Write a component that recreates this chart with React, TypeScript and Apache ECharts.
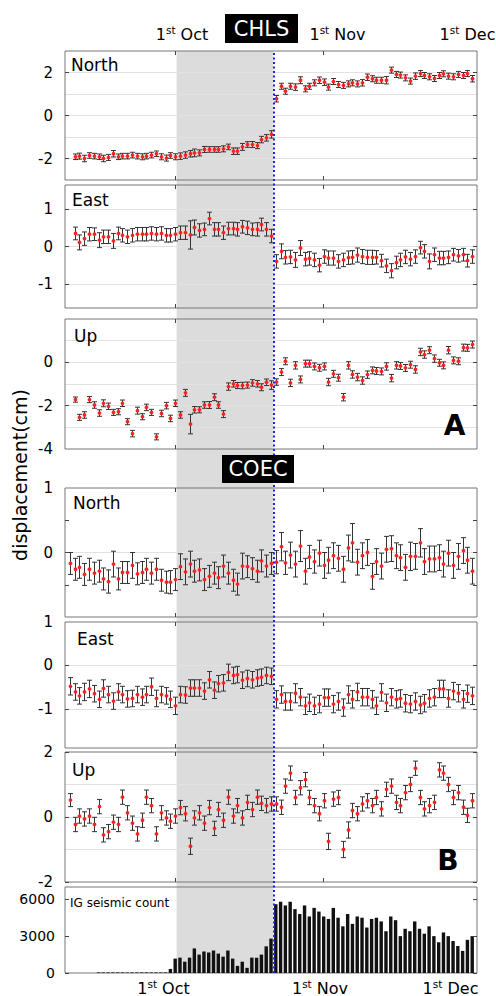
import React, { useEffect, useRef } from "react";
import * as echarts from "echarts";

const FONT = '"DejaVu Sans", "Noto Sans", sans-serif';

// x axis: day number counted from 1 Sep (1 Oct = 30, 1 Nov = 61, 1 Dec = 91)
const xMin = 7;
const xMax = 93;
const monthNames = ["Oct", "Nov", "Dec"];
const panelTickDays = [30, 61];
const grayStartDay = 30.3;
const eventDay = 50.5;

const chlsFirstDay = 9;
const coecFirstDay = 8;
const barFirstDay = 14;

// ---------- CHLS ----------
const chlsNorth = [
  -1.92, -1.89, -2.0, -1.86, -1.89, -1.92, -2.0, -1.95, -1.78, -1.92,
  -1.89, -1.89, -1.84, -1.89, -1.92, -1.89, -1.84, -1.78, -1.92, -1.98,
  -1.86, -1.92, -1.89, -1.84, -1.78, -1.74, -1.74, -1.58, -1.58, -1.58,
  -1.58, -1.55, -1.46, -1.66, -1.66, -1.46, -1.35, -1.35, -1.4, -1.12,
  -1.04, -0.88,
  0.78, 1.36, 1.13, 1.36, 1.32, 1.64, 1.24, 1.36, 1.52, 1.64,
  1.55, 1.32, 1.58, 1.44, 1.4, 1.47, 1.52, 1.47, 1.52, 1.78,
  1.71, 1.64, 1.64, 1.64, 2.11, 1.91, 1.88, 1.75, 1.6, 1.83,
  1.95, 1.86, 1.8, 1.72, 1.86, 1.94, 1.83, 1.8, 1.91, 1.86,
  1.95, 1.71,
];
const chlsNorthErr = [
  0.13, 0.14, 0.15, 0.13, 0.13, 0.13, 0.15, 0.14, 0.15, 0.13,
  0.13, 0.13, 0.13, 0.13, 0.14, 0.13, 0.13, 0.13, 0.14, 0.14,
  0.13, 0.14, 0.15, 0.15, 0.15, 0.18, 0.14, 0.14, 0.13, 0.13,
  0.13, 0.14, 0.13, 0.15, 0.15, 0.16, 0.13, 0.14, 0.14, 0.15,
  0.15, 0.17,
  0.15, 0.14, 0.14, 0.14, 0.15, 0.16, 0.14, 0.14, 0.14, 0.15,
  0.15, 0.14, 0.14, 0.14, 0.14, 0.14, 0.14, 0.14, 0.15, 0.15,
  0.14, 0.14, 0.14, 0.17, 0.14, 0.14, 0.14, 0.14, 0.14, 0.15,
  0.14, 0.14, 0.14, 0.14, 0.14, 0.14, 0.14, 0.14, 0.14, 0.14,
  0.14, 0.15,
];
const chlsEast = [
  0.35, 0.11, 0.21, 0.33, 0.33, 0.17, 0.26, 0.26, 0.15, 0.35,
  0.3, 0.26, 0.3, 0.33, 0.33, 0.33, 0.35, 0.33, 0.35, 0.3,
  0.3, 0.33, 0.37, 0.37, 0.31, 0.51, 0.43, 0.46, 0.75, 0.46,
  0.46, 0.37, 0.48, 0.48, 0.46, 0.53, 0.5, 0.46, 0.46, 0.59,
  0.46, 0.28,
  -0.4, -0.13, -0.29, -0.28, -0.36, -0.04, -0.34, -0.32, -0.36, -0.5,
  -0.27, -0.31, -0.31, -0.4, -0.36, -0.3, -0.29, -0.23, -0.27, -0.29,
  -0.29, -0.29, -0.38, -0.52, -0.65, -0.43, -0.36, -0.28, -0.34, -0.27,
  -0.03, -0.13, -0.4, -0.22, -0.31, -0.31, -0.29, -0.22, -0.25, -0.22,
  -0.38, -0.27,
];
const chlsEastErr = [
  0.17, 0.2, 0.18, 0.18, 0.17, 0.2, 0.18, 0.18, 0.2, 0.17,
  0.18, 0.18, 0.18, 0.18, 0.18, 0.18, 0.18, 0.18, 0.18, 0.18,
  0.18, 0.18, 0.18, 0.18, 0.38, 0.2, 0.18, 0.17, 0.17, 0.18,
  0.18, 0.18, 0.17, 0.17, 0.18, 0.17, 0.18, 0.17, 0.18, 0.17,
  0.18, 0.18,
  0.18, 0.2, 0.18, 0.18, 0.2, 0.2, 0.18, 0.18, 0.18, 0.18,
  0.18, 0.19, 0.19, 0.18, 0.18, 0.18, 0.18, 0.19, 0.19, 0.19,
  0.19, 0.18, 0.17, 0.18, 0.19, 0.17, 0.18, 0.18, 0.18, 0.18,
  0.17, 0.18, 0.2, 0.18, 0.18, 0.18, 0.17, 0.17, 0.17, 0.17,
  0.17, 0.18,
];
const chlsUp = [
  -1.72, -2.54, -2.43, -1.72, -1.97, -2.34, -1.89, -2.03, -2.31, -2.28,
  -1.89, -2.74, -3.29, -2.23, -2.51, -2.08, -2.31, -3.44, -2.36, -2.0,
  -2.59, -1.89, -2.43, -1.41, -2.85, -2.19, -2.19, -1.97, -1.97, -1.61,
  -1.97, -2.39, -1.12, -0.99, -1.07, -1.07, -1.05, -0.95, -0.99, -1.15,
  -0.92, -1.05,
  -0.91, -0.45, 0.05, -0.95, -0.14, -0.79, -0.06, -0.06, -0.19, -0.25,
  -0.19, -0.91, -0.53, -0.71, -1.61, -0.14, -0.56, -0.68, -0.84, -0.57,
  -0.37, -0.4, -0.42, -0.19, -0.73, -0.14, -0.17, -0.26, -0.11, -0.33,
  0.48, 0.36, 0.56, 0.17, -0.02, -0.14, 0.56, 0.09, 0.05, 0.68,
  0.67, 0.82,
];
const chlsUpErr = [
  0.12, 0.14, 0.15, 0.14, 0.15, 0.15, 0.16, 0.15, 0.14, 0.14,
  0.15, 0.14, 0.15, 0.16, 0.14, 0.15, 0.14, 0.14, 0.15, 0.15,
  0.15, 0.15, 0.15, 0.16, 0.45, 0.15, 0.14, 0.15, 0.16, 0.16,
  0.15, 0.16, 0.17, 0.15, 0.14, 0.15, 0.14, 0.15, 0.15, 0.16,
  0.15, 0.2,
  0.15, 0.16, 0.16, 0.17, 0.17, 0.16, 0.16, 0.16, 0.16, 0.16,
  0.16, 0.17, 0.16, 0.16, 0.17, 0.17, 0.17, 0.17, 0.17, 0.17,
  0.16, 0.16, 0.16, 0.17, 0.17, 0.17, 0.16, 0.16, 0.16, 0.17,
  0.17, 0.17, 0.16, 0.17, 0.16, 0.16, 0.17, 0.16, 0.16, 0.16,
  0.16, 0.16,
];

// ---------- COEC ----------
const coecNorth = [
  -0.17, -0.26, -0.23, -0.34, -0.26, -0.32, -0.29, -0.41, -0.45, -0.18,
  -0.41, -0.31, -0.31, -0.2, -0.33, -0.31, -0.26, -0.32, -0.26, -0.43,
  -0.46, -0.46, -0.42, -0.22, -0.3, -0.18, -0.29, -0.27, -0.42, -0.37,
  -0.32, -0.39, -0.21, -0.32, -0.43, -0.49, -0.21, -0.22, -0.25, -0.29,
  -0.13, -0.21, -0.17,
  -0.15, 0.09, -0.16, -0.04, -0.18, 0.1, -0.29, -0.07, -0.14, -0.01,
  -0.2, -0.12, -0.05, -0.09, -0.26, 0.07, 0.15, -0.15, -0.05, 0.0,
  -0.37, -0.14, -0.21, 0.05, 0.06, -0.05, -0.08, -0.23, -0.06, -0.06,
  0.15, -0.14, -0.1, -0.1, -0.08, -0.18, -0.01, -0.2, -0.06, 0.03,
  -0.12, -0.29,
];
const coecNorthErr = [
  0.17, 0.17, 0.17, 0.17, 0.17, 0.17, 0.17, 0.17, 0.18, 0.2,
  0.17, 0.17, 0.17, 0.2, 0.17, 0.17, 0.17, 0.17, 0.17, 0.17,
  0.17, 0.18, 0.17, 0.2, 0.2, 0.2, 0.17, 0.17, 0.17, 0.17,
  0.17, 0.17, 0.17, 0.17, 0.17, 0.17, 0.2, 0.17, 0.17, 0.17,
  0.17, 0.17, 0.17,
  0.18, 0.22, 0.18, 0.2, 0.2, 0.24, 0.2, 0.18, 0.18, 0.2,
  0.2, 0.2, 0.2, 0.2, 0.2, 0.2, 0.3, 0.2, 0.2, 0.2,
  0.2, 0.2, 0.2, 0.2, 0.2, 0.2, 0.2, 0.2, 0.22, 0.2,
  0.22, 0.2, 0.2, 0.2, 0.2, 0.2, 0.2, 0.2, 0.2, 0.2,
  0.2, 0.2,
];
const coecEast = [
  -0.48, -0.61, -0.7, -0.61, -0.54, -0.65, -0.78, -0.53, -0.67, -0.82,
  -0.61, -0.67, -0.77, -0.76, -0.67, -0.73, -0.67, -0.49, -0.76, -0.67,
  -0.7, -0.78, -0.93, -0.67, -0.68, -0.52, -0.52, -0.52, -0.59, -0.33,
  -0.57, -0.42, -0.4, -0.16, -0.23, -0.21, -0.34, -0.3, -0.33, -0.29,
  -0.27, -0.23, -0.25,
  -0.78, -0.67, -0.83, -0.83, -0.64, -0.73, -0.93, -0.86, -0.93, -0.89,
  -0.74, -0.74, -0.89, -0.83, -0.97, -0.67, -0.78, -0.61, -0.73, -0.73,
  -0.78, -0.93, -0.62, -0.86, -0.73, -0.78, -0.76, -0.87, -0.89, -0.83,
  -0.91, -0.87, -0.76, -0.73, -0.54, -0.54, -0.76, -0.59, -0.64, -0.78,
  -0.65, -0.7,
];
const coecEastErr = [
  0.2, 0.19, 0.19, 0.2, 0.2, 0.19, 0.19, 0.2, 0.19, 0.19,
  0.19, 0.19, 0.19, 0.19, 0.19, 0.19, 0.19, 0.2, 0.19, 0.19,
  0.19, 0.19, 0.2, 0.19, 0.19, 0.19, 0.19, 0.19, 0.19, 0.19,
  0.19, 0.19, 0.19, 0.19, 0.19, 0.19, 0.19, 0.19, 0.19, 0.19,
  0.19, 0.19, 0.19,
  0.2, 0.2, 0.2, 0.2, 0.22, 0.2, 0.2, 0.2, 0.2, 0.2,
  0.2, 0.2, 0.2, 0.2, 0.2, 0.2, 0.2, 0.2, 0.2, 0.2,
  0.2, 0.2, 0.2, 0.2, 0.2, 0.2, 0.2, 0.2, 0.2, 0.2,
  0.2, 0.2, 0.2, 0.2, 0.2, 0.2, 0.2, 0.2, 0.2, 0.2,
  0.2, 0.2,
];
const coecUp = [
  0.52, -0.23, 0.03, -0.06, 0.03, -0.23, 0.32, -0.55, -0.45, -0.16,
  -0.23, 0.61, 0.13, -0.19, -0.52, -0.1, 0.61, 0.35, -0.52, 0.13,
  -0.03, -0.13, 0.03, 0.29, 0.1, -0.9, -0.03, 0.13, -0.19, 0.29,
  -0.35, 0.23, -0.1, 0.61, 0.03, 0.35, -0.03, 0.45, 0.23, 0.61,
  0.42, 0.35, 0.4,
  0.4, 0.3, 0.95, 1.35, 0.6, 0.9, 1.15, 0.6, 0.35, 0.1,
  0.5, -0.75, 0.55, 0.6, -1.0, -0.4, 0.2, 0.1, 0.4, 0.5,
  0.35, 0.6, 0.25, 0.85, 0.95, 0.45, 0.35, 0.75, 1.0, 1.5,
  0.6, 0.25, 0.35, 0.45, 1.45, 1.35, 1.0, 0.6, 0.75, 0.3,
  0.05, 0.5,
];
const coecUpErr = [
  0.2, 0.22, 0.22, 0.22, 0.22, 0.22, 0.22, 0.22, 0.22, 0.22,
  0.22, 0.22, 0.22, 0.22, 0.22, 0.22, 0.22, 0.22, 0.22, 0.22,
  0.22, 0.22, 0.22, 0.22, 0.22, 0.25, 0.22, 0.22, 0.22, 0.22,
  0.22, 0.22, 0.22, 0.22, 0.22, 0.22, 0.22, 0.22, 0.22, 0.22,
  0.22, 0.22, 0.22,
  0.22, 0.22, 0.22, 0.22, 0.22, 0.22, 0.22, 0.22, 0.22, 0.22,
  0.22, 0.25, 0.22, 0.22, 0.25, 0.25, 0.22, 0.22, 0.22, 0.22,
  0.22, 0.22, 0.22, 0.22, 0.22, 0.22, 0.22, 0.22, 0.22, 0.22,
  0.22, 0.22, 0.22, 0.22, 0.22, 0.22, 0.22, 0.22, 0.22, 0.22,
  0.22, 0.22,
];

// ---------- IG seismic count (daily) ----------
const seismicCounts = [
  50, 50, 50, 50, 50, 50, 50, 50, 50, 50, 50, 50, 50, 50, 50,
  330, 1170, 1250, 920, 1250, 2000, 1500, 1750, 1670, 1830,
  1580, 1330, 1830, 1170, 580, 920, 420, 1250, 1250, 1500,
  2170, 2800,
  5600, 5800, 5500, 5800, 5200, 4800, 5500, 4600, 5300, 5000,
  4600, 4400, 5300, 4500, 3800, 4800, 4000, 4600, 4500, 3700,
  4400, 4500, 4200, 3400, 4600, 4300, 3000, 3600, 3400, 4200,
  3600, 3200, 3800, 3000, 2500, 3300, 3000, 2600, 2200, 1800,
  2700, 3000,
];

const daysFrom = (first: number, n: number) => Array.from({ length: n }, (_, i) => first + i);

const panels = [
  { name: "North", first: chlsFirstDay, values: chlsNorth, errs: chlsNorthErr, min: -3, max: 3, labels: [-2, 0, 2], ticks: [-2, 0, 2], lines: [-2, -1, 0, 1, 2] },
  { name: "East", first: chlsFirstDay, values: chlsEast, errs: chlsEastErr, min: -1.65, max: 1.65, labels: [-1, 0, 1], ticks: [-1, 0, 1], lines: [-1, 0, 1] },
  { name: "Up", first: chlsFirstDay, values: chlsUp, errs: chlsUpErr, min: -4, max: 2, labels: [-4, -2, 0], ticks: [-2, 0], lines: [-3, -2, -1, 0, 1] },
  { name: "North", first: coecFirstDay, values: coecNorth, errs: coecNorthErr, min: -1, max: 1, labels: [0, 1], ticks: [-0.5, 0, 0.5], lines: [0] },
  { name: "East", first: coecFirstDay, values: coecEast, errs: coecEastErr, min: -1.9, max: 1, labels: [-1, 0, 1], ticks: [-1, 0], lines: [-1, 0] },
  { name: "Up", first: coecFirstDay, values: coecUp, errs: coecUpErr, min: -2, max: 2, labels: [-2, 0, 2], ticks: [-2, 0, 2], lines: [-1, 0, 1] },
];
const barLabels = [0, 3000, 6000];

// layout (pixels)
const PLOT_LEFT = 65;
const PLOT_WIDTH = 412;
const panelBoxes = [
  { top: 51, height: 129, nameX: 71, nameY: 64.5 },
  { top: 185, height: 123, nameX: 72, nameY: 200 },
  { top: 319, height: 130, nameX: 74, nameY: 335.5 },
  { top: 488, height: 129, nameX: 73, nameY: 503 },
  { top: 622, height: 126, nameX: 77, nameY: 639 },
  { top: 752, height: 130, nameX: 72, nameY: 770 },
];
const barBox = { top: 887, height: 86 };
const topLabelPos = [
  [182, 34],
  [337.5, 34],
  [467.5, 34],
];
const bottomLabelPos = [
  [163.5, 988],
  [320, 988],
  [450.5, 988],
];

const TICK = { color: "#444", width: 1 };

function renderErr(params: any, api: any) {
  const x = api.value(0);
  const y = api.value(1);
  const e = api.value(2);
  const c = api.coord([x, y]);
  const t = api.coord([x, y + e]);
  const b = api.coord([x, y - e]);
  const cx = Math.round(c[0]) + 0.5;
  const cw = 2.5;
  const ls = { stroke: "#333", lineWidth: 1, fill: null };
  return {
    type: "group",
    children: [
      { type: "line", shape: { x1: cx, y1: t[1], x2: cx, y2: b[1] }, style: ls },
      { type: "line", shape: { x1: cx - cw, y1: t[1], x2: cx + cw, y2: t[1] }, style: ls },
      { type: "line", shape: { x1: cx - cw, y1: b[1], x2: cx + cw, y2: b[1] }, style: ls },
      { type: "circle", shape: { cx: cx, cy: c[1], r: 1.9 }, style: { fill: "#ff2020", stroke: null } },
    ],
  };
}

function xAxisDef(gridIndex: number, position: string, ticks: boolean) {
  return {
    type: "value",
    gridIndex,
    position,
    min: xMin,
    max: xMax,
    z: 6,
    axisLine: { show: false, onZero: false },
    axisLabel: { show: false },
    splitLine: { show: false },
    axisTick: { show: ticks, inside: true, length: 4, lineStyle: TICK, customValues: panelTickDays },
  };
}

function yAxisDef(gridIndex: number, position: string, min: number, max: number, ticks: number[], labels: number[], fontSize: number, margin: number) {
  return {
    type: "value",
    gridIndex,
    position,
    min,
    max,
    z: 6,
    axisLine: { show: false, onZero: false },
    splitLine: { show: false },
    axisTick: { show: true, inside: true, length: 4, lineStyle: TICK, customValues: ticks },
    axisLabel: {
      show: position === "left",
      customValues: labels,
      formatter: (v: number) => String(v),
      color: "#000",
      fontSize,
      fontFamily: FONT,
      margin,
    },
  };
}

function supText(month: string) {
  return {
    text: `{n|1}{s|st}{n| ${month}}`,
    rich: {
      n: { fontSize: 16, fontFamily: FONT, fill: "#000", lineHeight: 20 },
      s: { fontSize: 10.5, fontFamily: FONT, fill: "#000", lineHeight: 12, verticalAlign: "top" },
    },
  };
}

function buildOption() {
  const grids: any[] = [];
  const xAxes: any[] = [];
  const yAxes: any[] = [];
  const series: any[] = [];
  const graphic: any[] = [];

  panels.forEach((p, i) => {
    const box = panelBoxes[i];
    grids.push({
      left: PLOT_LEFT, width: PLOT_WIDTH, top: box.top, height: box.height,
      show: true, borderColor: "#777", borderWidth: 1, backgroundColor: "transparent", z: 5,
    });
    xAxes.push(xAxisDef(i, "bottom", true), xAxisDef(i, "top", true));
    yAxes.push(
      yAxisDef(i, "left", p.min, p.max, p.ticks, p.labels, 15, 12),
      yAxisDef(i, "right", p.min, p.max, p.ticks, p.labels, 15, 12)
    );
    const days = daysFrom(p.first, p.values.length);
    series.push({
      type: "custom",
      xAxisIndex: 2 * i,
      yAxisIndex: 2 * i,
      z: 6,
      silent: true,
      renderItem: renderErr,
      encode: { x: 0, y: 1 },
      data: days.map((d, k) => [d, p.values[k], p.errs[k]]),
      markLine: {
        silent: true,
        z: 2,
        symbol: ["none", "none"],
        label: { show: false },
        lineStyle: { color: "#e2e2e2", width: 1, type: "solid" },
        emphasis: { disabled: true },
        data: p.lines.map((v) => ({ yAxis: v })),
      },
    });
    graphic.push({
      type: "text",
      x: box.nameX,
      y: box.nameY,
      z: 100,
      style: { text: p.name, font: `17px ${FONT}`, fill: "#000", align: "left", verticalAlign: "middle", textAlign: "left", textVerticalAlign: "middle" },
    });
  });

  // seismic count panel
  const bi = panels.length;
  grids.push({
    left: PLOT_LEFT, width: PLOT_WIDTH, top: barBox.top, height: barBox.height,
    show: true, borderColor: "#777", borderWidth: 1, backgroundColor: "transparent", z: 5,
  });
  xAxes.push(xAxisDef(bi, "bottom", false), xAxisDef(bi, "top", false));
  yAxes.push(
    yAxisDef(bi, "left", 0, 7000, barLabels, barLabels, 14, 10),
    yAxisDef(bi, "right", 0, 7000, barLabels, barLabels, 14, 10)
  );
  const barDays = daysFrom(barFirstDay, seismicCounts.length);
  series.push({
    type: "bar",
    xAxisIndex: 2 * bi,
    yAxisIndex: 2 * bi,
    z: 6,
    silent: true,
    barWidth: 3.4,
    itemStyle: { color: "#111" },
    data: barDays.map((d, k) => [d, seismicCounts[k]]),
  });

  // overlay spanning all panels: grey band + event line
  const oi = bi + 1;
  grids.push({ left: PLOT_LEFT, width: PLOT_WIDTH, top: panelBoxes[0].top, height: barBox.top + barBox.height - panelBoxes[0].top, show: false });
  xAxes.push({ type: "value", gridIndex: oi, min: xMin, max: xMax, show: false });
  yAxes.push({ type: "value", gridIndex: oi, min: 0, max: 1, show: false });
  series.push({
    type: "line",
    xAxisIndex: 2 * oi,
    yAxisIndex: 2 * oi,
    z: 1,
    silent: true,
    symbol: "none",
    data: [[grayStartDay, -5]],
    markArea: {
      silent: true,
      z: 1,
      itemStyle: { color: "#dcdcdc" },
      label: { show: false },
      data: [[{ xAxis: grayStartDay }, { xAxis: eventDay }]],
    },
    markLine: {
      silent: true,
      z: 7,
      symbol: ["none", "none"],
      label: { show: false },
      lineStyle: { color: "#1c1cff", width: 2, type: [2, 2.5] },
      data: [{ xAxis: eventDay }],
    },
  });

  // month labels
  monthNames.forEach((m, k) => {
    const st = supText(m);
    graphic.push({
      type: "text", x: topLabelPos[k][0], y: topLabelPos[k][1], z: 100,
      style: { ...st, fill: "#000", align: "center", verticalAlign: "middle", textAlign: "center", textVerticalAlign: "middle" },
    });
    graphic.push({
      type: "text", x: bottomLabelPos[k][0], y: bottomLabelPos[k][1], z: 100,
      style: { ...st, fill: "#000", align: "center", verticalAlign: "middle", textAlign: "center", textVerticalAlign: "middle" },
    });
  });

  // station title boxes
  graphic.push(
    { type: "rect", z: 100, shape: { x: 225, y: 14, width: 73, height: 29 }, style: { fill: "#000" } },
    { type: "text", z: 101, x: 261.5, y: 28.5, style: { text: "CHLS", font: `21px ${FONT}`, fill: "#fff", align: "center", verticalAlign: "middle", textAlign: "center", textVerticalAlign: "middle" } },
    { type: "rect", z: 100, shape: { x: 222, y: 455, width: 72, height: 28 }, style: { fill: "#000" } },
    { type: "text", z: 101, x: 258, y: 469, style: { text: "COEC", font: `21px ${FONT}`, fill: "#fff", align: "center", verticalAlign: "middle", textAlign: "center", textVerticalAlign: "middle" } },
    { type: "text", z: 100, x: 454.5, y: 425, style: { text: "A", font: `bold 28px ${FONT}`, fill: "#000", align: "center", verticalAlign: "middle", textAlign: "center", textVerticalAlign: "middle" } },
    { type: "text", z: 100, x: 448, y: 860, style: { text: "B", font: `bold 28px ${FONT}`, fill: "#000", align: "center", verticalAlign: "middle", textAlign: "center", textVerticalAlign: "middle" } },
    { type: "text", z: 100, x: 20, y: 475, rotation: Math.PI / 2, style: { text: "displacement(cm)", font: `19px ${FONT}`, fill: "#000", align: "center", verticalAlign: "middle", textAlign: "center", textVerticalAlign: "middle" } },
    { type: "text", z: 100, x: 70, y: 903, style: { text: "IG seismic count", font: `12px ${FONT}`, fill: "#000", align: "left", verticalAlign: "middle", textAlign: "left", textVerticalAlign: "middle" } }
  );

  return {
    animation: false,
    backgroundColor: "#fff",
    grid: grids,
    xAxis: xAxes,
    yAxis: yAxes,
    series,
    graphic,
  };
}

export default function App() {
  const ref = useRef<HTMLDivElement>(null);
  useEffect(() => {
    if (!ref.current) return;
    const chart = echarts.init(ref.current, null, { renderer: "svg" });
    chart.setOption(buildOption() as any);
    return () => chart.dispose();
  }, []);
  return (
    <div
      ref={ref}
      style={{ position: "absolute", left: 0, top: 0, width: 496, height: 996, background: "#fff" }}
    />
  );
}
